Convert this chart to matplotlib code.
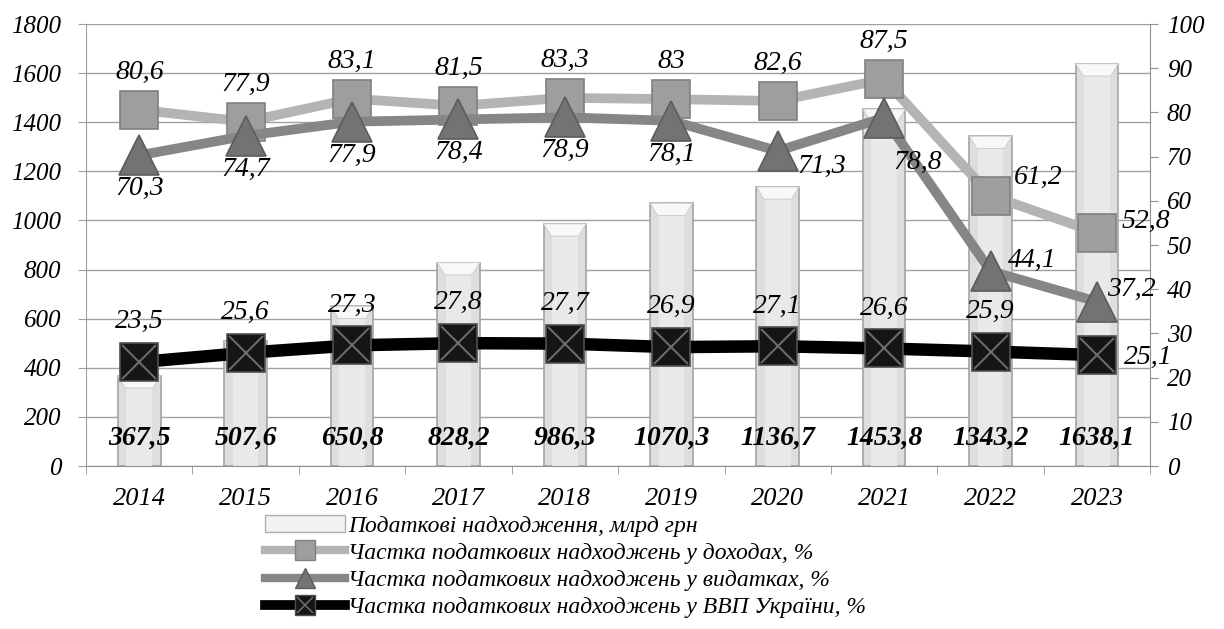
import matplotlib.pyplot as plt
import numpy as np
from matplotlib.lines import Line2D
from matplotlib.patches import Rectangle, Polygon

years = ['2014', '2015', '2016', '2017', '2018', '2019', '2020', '2021', '2022', '2023']
tax_revenue = [367.5, 507.6, 650.8, 828.2, 986.3, 1070.3, 1136.7, 1453.8, 1343.2, 1638.1]
share_income = [80.6, 77.9, 83.1, 81.5, 83.3, 83.0, 82.6, 87.5, 61.2, 52.8]
share_spending = [70.3, 74.7, 77.9, 78.4, 78.9, 78.1, 71.3, 78.8, 44.1, 37.2]
share_gdp = [23.5, 25.6, 27.3, 27.8, 27.7, 26.9, 27.1, 26.6, 25.9, 25.1]

legend_labels = ['Податкові надходження, млрд грн',
                 'Частка податкових надходжень у доходах, %',
                 'Частка податкових надходжень у видатках, %',
                 'Частка податкових надходжень у ВВП України, %']

plt.rcParams['font.family'] = ['Liberation Serif', 'DejaVu Serif']
plt.rcParams['font.style'] = 'italic'

c_inc_line, c_inc_mk, c_inc_edge = '#b4b4b4', '#9e9e9e', '#808080'
c_sp_line, c_sp_mk, c_sp_edge = '#868686', '#737373', '#5c5c5c'


def fmt(v):
    s = f'{v:.1f}'.replace('.', ',')
    return s[:-2] if s.endswith(',0') else s


fig = plt.figure(figsize=(12.24, 6.29), dpi=100)
ax = fig.add_axes([0.0703, 0.2591, 0.8694, 0.7027])
x = np.arange(len(years))

# bars with a soft bevel look
bw = 0.4
ax.bar(x, tax_revenue, width=bw, color='#dedede', edgecolor='#a4a4a4', linewidth=1.2, zorder=2)
ax.bar(x, tax_revenue, width=bw * 0.6, color='#e9e9e9', linewidth=0, zorder=2)
for xi, v in zip(x, tax_revenue):
    ax.add_patch(Polygon([(xi - bw / 2, v), (xi + bw / 2, v),
                          (xi + bw / 2 - 0.07, v - 50), (xi - bw / 2 + 0.07, v - 50)],
                         closed=True, facecolor='#f8f8f8', edgecolor='#c8c8c8',
                         linewidth=0.6, zorder=2))
    ax.text(xi, 112, fmt(v), ha='center', va='center', fontsize=20,
            fontweight='bold', zorder=6)

ax.set_xlim(-0.5, len(years) - 0.5)
ax.set_ylim(0, 1800)
ax.set_yticks(np.arange(0, 1801, 200))
ax.yaxis.grid(True, color='#a0a0a0', linewidth=1.0, zorder=0)
ax.set_axisbelow(True)
ax.set_xticks(x)
ax.set_xticklabels(years)
ax.set_xticks(np.arange(-0.5, len(years), 1), minor=True)
ax.tick_params(axis='x', which='major', length=0, labelsize=19, pad=16)
ax.tick_params(axis='x', which='minor', length=6, color='#909090', direction='out')
ax.tick_params(axis='y', length=6, color='#a0a0a0', labelsize=18, pad=12)
for s in ['top', 'right']:
    ax.spines[s].set_visible(False)
ax.spines['bottom'].set_color('#909090')
ax.spines['left'].set_color('#a0a0a0')

ax2 = ax.twinx()
ax2.set_ylim(0, 100)
ax2.set_yticks(np.arange(0, 101, 10))
ax2.tick_params(axis='y', length=6, color='#909090', labelsize=18, pad=6)
for s in ['top', 'left', 'bottom']:
    ax2.spines[s].set_visible(False)
ax2.spines['right'].set_color('#909090')

for t in ax.get_xticklabels() + ax.get_yticklabels() + ax2.get_yticklabels():
    t.set_fontstyle('italic')

ax2.plot(x, share_income, color=c_inc_line, linewidth=7, zorder=3,
         marker='s', markersize=27, markerfacecolor=c_inc_mk,
         markeredgecolor=c_inc_edge, markeredgewidth=1.2)
ax2.plot(x, share_spending, color=c_sp_line, linewidth=7, zorder=4,
         marker='^', markersize=29, markerfacecolor=c_sp_mk,
         markeredgecolor=c_sp_edge, markeredgewidth=1.2)
ax2.plot(x, share_gdp, color='black', linewidth=9, zorder=5,
         marker='s', markersize=28, markerfacecolor='#151515',
         markeredgecolor='#505050', markeredgewidth=1.2)
ax2.plot(x, share_gdp, linestyle='none', marker='x', markersize=24,
         markeredgecolor='#6a6a6a', markeredgewidth=1.5, zorder=5)

# label offsets in points (default, then per-year exceptions)
inc_off = {8: (34, 13), 9: (35, 8)}
sp_off = {6: (32, -11), 7: (24, -32), 8: (30, 8), 9: (25, 9)}
gdp_off = {9: (37, -2)}

for vals, offs, default in [(share_income, inc_off, (0, 27)),
                            (share_spending, sp_off, (0, -24)),
                            (share_gdp, gdp_off, (0, 29))]:
    for i, v in enumerate(vals):
        ax2.annotate(fmt(v), (i, v), xytext=offs.get(i, default),
                     textcoords='offset points', ha='center', va='center',
                     fontsize=20, zorder=7)

handles = [
    Rectangle((0, 0), 1, 1, facecolor='#f2f2f2', edgecolor='#b0b0b0'),
    Line2D([], [], color=c_inc_line, linewidth=6, marker='s', markersize=15,
           markerfacecolor=c_inc_mk, markeredgecolor=c_inc_edge),
    Line2D([], [], color=c_sp_line, linewidth=6, marker='^', markersize=15,
           markerfacecolor=c_sp_mk, markeredgecolor=c_sp_edge),
    (Line2D([], [], color='black', linewidth=7, marker='s', markersize=15,
            markerfacecolor='#151515', markeredgecolor='#505050'),
     Line2D([], [], linestyle='none', marker='x', markersize=12,
            markeredgecolor='#6a6a6a', markeredgewidth=1.2)),
]
fig.legend(handles, legend_labels, loc='upper left', bbox_to_anchor=(0.207, 0.2),
           frameon=False, fontsize=17, handlelength=3.4, handletextpad=0.1,
           labelspacing=0.24, borderpad=0)

fig.savefig('out.png', dpi=100)
